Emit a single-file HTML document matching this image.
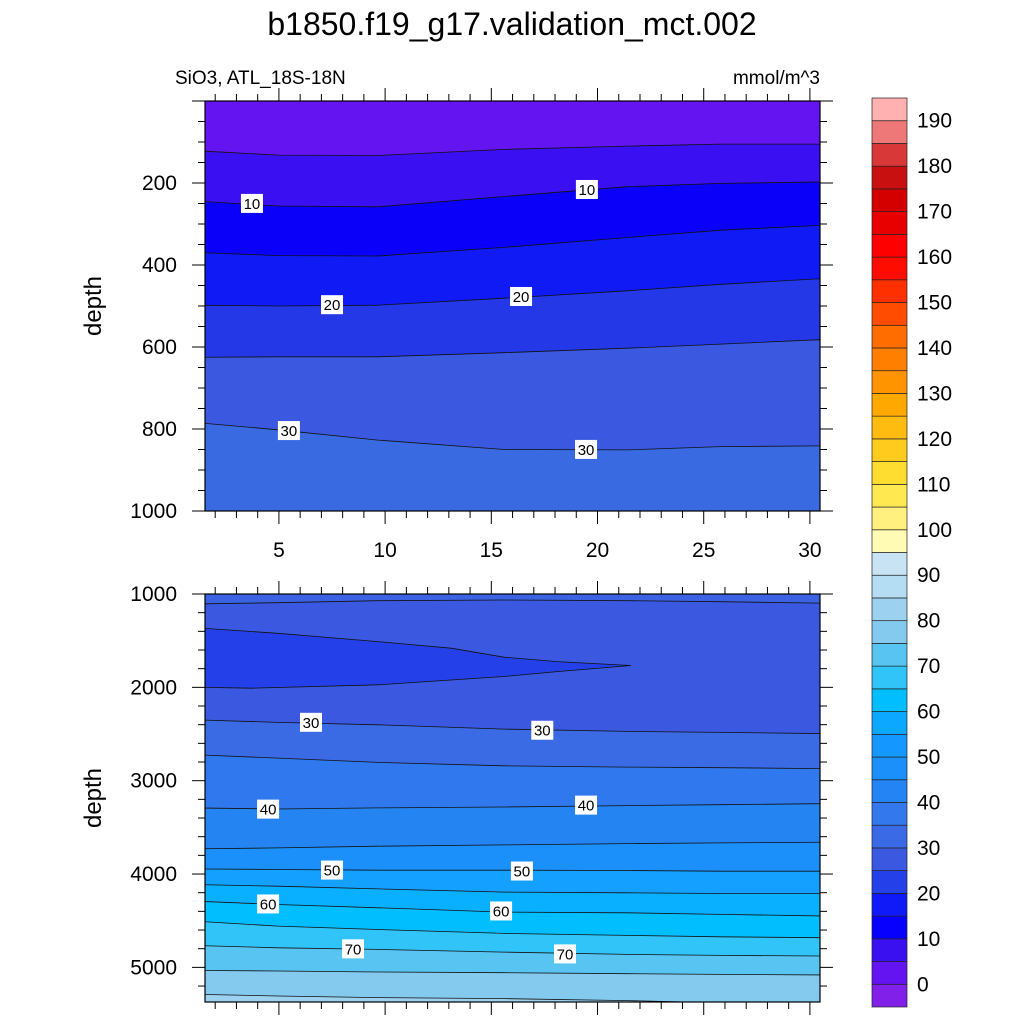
<!DOCTYPE html>
<html><head><meta charset="utf-8"><style>
html,body{margin:0;padding:0;background:#fff;}
svg text{font-family:"Liberation Sans",sans-serif;}
</style></head><body>
<svg id="chart" width="1024" height="1024" viewBox="0 0 1024 1024" xmlns="http://www.w3.org/2000/svg">
<text x="512" y="35" font-size="32" text-anchor="middle">b1850.f19_g17.validation_mct.002</text>
<text x="175" y="84" font-size="19">SiO3, ATL_18S-18N</text>
<text x="820" y="84" font-size="19" text-anchor="end">mmol/m^3</text>
<text transform="translate(101,306) rotate(-90)" font-size="24" text-anchor="middle">depth</text>
<text transform="translate(101,798) rotate(-90)" font-size="24" text-anchor="middle">depth</text>
<g id="top"></g><g id="bot"></g><g id="cbar"></g>
</svg>
<script>
// ---- data ----
const lats = [1.5, 4.95, 9.66, 15.6, 21.4, 25.8, 30.5];
// top panel (0-1000 m) contour depths
const topLevels = [5, 10, 15, 20, 25, 30];
const topContours = [
  [121,132,133,118,110,105,105],
  [244,256,258,233,209,201,197],
  [369,377,378,357,333,315,302],
  [498,500,498,481,463,447,432],
  [625,624,624,614,603,593,581],
  [784,802,827,850,851,843,841]
];
const topBandColors = ['#6414F0','#3A10F2','#0A00FA','#101AF5','#2438E8','#3A58E0','#3A6AE2'];
const topLabelText = ['10','10','20','20','30','30'];
const topLabelLat = [3.73,19.5,7.5,16.4,5.47,19.46];
const topLabelDepth = [251,217,498,478,805,851];
// bottom panel (1000-5371 m)
const botLevels = [30,30,35,40,45,50,55,60,65,70,75,80];
const botContours = [
  [1107,1093,1072,1064,1072,1082,1100],
  [2348,2376,2401,2447,2472,2483,2497],
  [2722,2758,2804,2840,2854,2861,2872],
  [3292,3303,3292,3282,3267,3257,3246],
  [3731,3720,3702,3688,3674,3667,3659],
  [3945,3952,3959,3959,3962,3970,3970],
  [4112,4130,4159,4194,4201,4209,4209],
  [4290,4326,4362,4408,4415,4433,4451],
  [4504,4558,4594,4636,4658,4672,4683],
  [4765,4790,4807,4836,4861,4872,4879],
  [5032,5039,5050,5057,5068,5075,5082],
  [5289,5307,5324,5335,5356,5380,5400]
];
const botBandColors = ['#3A62E2','#3A58E0','#3A6AE4','#3078EE','#2484F2','#1C90FA','#14A0FF','#08B0FF','#00BEFF','#30C4F8','#58C4F2','#84CAEE','#9CD2F0'];
const tongueLat = [1.49,4.95,9.66,13.11,15.6,18.1,21.57,18.1,15.6,9.66,3.70,1.49];
const tongueDepth = [1360,1421,1510,1581,1677,1724,1766,1831,1884,1973,2009,1998];
const tongueColor = '#2440E8';
const botLabelText = ['30','30','40','40','50','50','60','60','70','70'];
const botLabelLat = [6.51,17.4,4.49,19.46,7.5,16.44,4.49,15.46,8.49,18.47];
const botLabelDepth = [2380,2465,3310,3267,3963,3973,4326,4401,4807,4861];
// colorbar
const cbarColors = ['#8020E8','#6414F0','#3A10F0','#0800FF','#101AF8','#2440E8','#3A58E0','#3A6AE6','#3478EE','#2484F4','#1C90FA','#1498FF','#0CA8FF','#00BEFF','#30C4F8','#58C4F2','#84CAEE','#9CD2F0','#B4DCF2','#C8E4F4','#FFFAB4','#FFF080','#FFE850','#FFDC30','#FFCC1E','#FFBC10','#FFA800','#FF9400','#FF8000','#FF6C00','#FF4C00','#FF3000','#FF0C00','#FF0000','#E80000','#D40000','#C81010','#D83838','#EE7878','#FFB0B0'];
const cbarTicks = [0,10,20,30,40,50,60,70,80,90,100,110,120,130,140,150,160,170,180,190];

// ---- geometry ----
const NS='http://www.w3.org/2000/svg';
const X0=205, X1=820, LAT0=1.52, PXLAT=21.24;
const xs = lat => X0 + (lat-LAT0)*PXLAT;
function mk(parent, tag, attrs){const e=document.createElementNS(NS,tag);for(const k in attrs)e.setAttribute(k,attrs[k]);parent.appendChild(e);return e;}
function panel(g, yTop, yBot, d0, d1, contours, colors, labT, labLat, labD, tongue, yMajor, yMinor, xLabels, nm){
  const ys = d => yTop + (d-d0)/(d1-d0)*(yBot-yTop);
  const defsClip = mk(g,'clipPath',{id:'clip'+nm});
  mk(defsClip,'rect',{x:X0,y:yTop,width:X1-X0,height:yBot-yTop});
  const fg = mk(g,'g',{'clip-path':'url(#clip'+nm+')'});
  const bg = mk(fg,'rect',{x:X0,y:yTop,width:X1-X0,height:yBot-yTop,fill:colors[0]});
  
  
  const lineStr = c => c.map((d,i)=>`${xs(lats[i]-(i==0?0.5:0)+(i==lats.length-1?0.5:0)).toFixed(1)},${ys(d).toFixed(1)}`).join(' ');
  contours.forEach((c,k)=>{
    const pts = lineStr(c)+` ${X1+20},${yBot+20} ${X0-20},${yBot+20}`;
    const p = mk(fg,'polygon',{points:pts,fill:colors[k+1]});
    
    
    if(tongue && k===0){
      const tp = mk(fg,'polygon',{points:tongue.lat.map((l,i)=>`${xs(l<2?l-0.5:l).toFixed(1)},${ys(tongue.d[i]).toFixed(1)}`).join(' '),fill:tongue.color,stroke:'#111',"stroke-width":0.8});
      
      
    }
  });
  contours.forEach((c,k)=>{
    const l = mk(fg,'polyline',{points:lineStr(c),fill:'none',stroke:'#111','stroke-width':0.8});
    
    
  });
  labT.forEach((t,i)=>{
    const cx=xs(labLat[i]), cy=ys(labD[i]);
    const r = mk(fg,'rect',{x:cx-11,y:cy-10,width:22,height:19,fill:'#fff'});
    
    
    const tx = mk(fg,'text',{x:cx,y:cy+5,'font-size':15,'text-anchor':'middle'});
    tx.textContent=t;
    
    
  });
  const fr = mk(g,'rect',{x:X0,y:yTop,width:X1-X0,height:yBot-yTop,fill:'none',stroke:'#000','stroke-width':1.2});
  
  
  // y ticks
  for(let d=Math.ceil(d0/yMinor)*yMinor; d<=d1; d+=yMinor){
    const y=ys(d), maj = d%yMajor===0;
    const L = maj?13:7;
    mk(g,'line',{x1:X0-L,x2:X0,y1:y,y2:y,stroke:'#000','stroke-width':1});
    mk(g,'line',{x1:X1,x2:X1+L,y1:y,y2:y,stroke:'#000','stroke-width':1});
    if(maj && d>0){
      const t=mk(g,'text',{x:X0-28,y:y+7,'font-size':21,'text-anchor':'end'});
      t.textContent=d;
      
      
    }
  }
  // x ticks
  for(let lat=2; lat<=30; lat++){
    const x=xs(lat), maj=lat%5===0, L=maj?13:7;
    mk(g,'line',{x1:x,x2:x,y1:yTop-L,y2:yTop,stroke:'#000','stroke-width':1});
    mk(g,'line',{x1:x,x2:x,y1:yBot,y2:yBot+L,stroke:'#000','stroke-width':1});
    if(maj && xLabels){
      const t=mk(g,'text',{x:x,y:yBot+46,'font-size':21,'text-anchor':'middle'});
      t.textContent=lat;
      
      
    }
  }
}
panel(document.getElementById('top'),101,511,0,1000,topContours,topBandColors,topLabelText,topLabelLat,topLabelDepth,null,200,50,true,'top');
panel(document.getElementById('bot'),594,1002,1000,5371,botContours,botBandColors,botLabelText,botLabelLat,botLabelDepth,{lat:tongueLat,d:tongueDepth,color:tongueColor},1000,200,false,'bot');

// colorbar
const cb=document.getElementById('cbar');
const CB0=1007, CBH=(1007-98)/cbarColors.length;
cbarColors.forEach((c,i)=>{
  const r=mk(cb,'rect',{x:872,y:CB0-(i+1)*CBH,width:35,height:CBH,fill:c,stroke:'#222','stroke-width':0.7});
  
  
});
cbarTicks.forEach(v=>{
  const y=CB0-((v+5)/5)*CBH;
  const t=mk(cb,'text',{x:917,y:y+7,'font-size':21});
  t.textContent=v;
  
  
});
</script>
</body></html>
